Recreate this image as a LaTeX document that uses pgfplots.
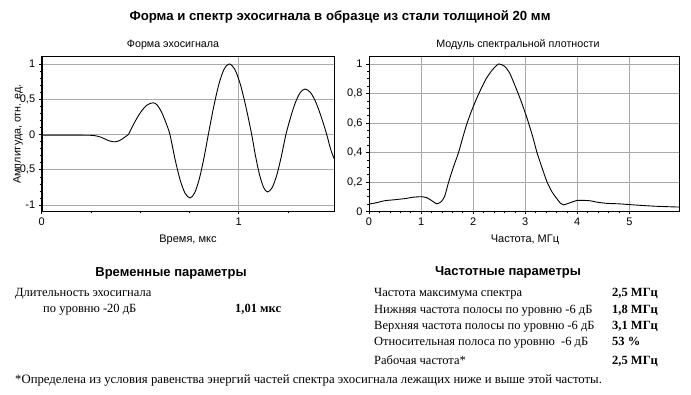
\documentclass[border=0pt]{standalone}
\usepackage{fontspec}
\setmainfont{Liberation Sans}
\newfontfamily\serif{Liberation Serif}
\usepackage{pgfplots}
\pgfplotsset{compat=1.18}
\definecolor{gridgray}{RGB}{170,170,170}
\pgfplotsset{
  mystyle/.style={
    scale only axis,
    anchor=south west,
    axis line style={black, line width=0.7pt},
    tick align=outside,
    major tick length=3pt,
    minor tick length=2pt,
    tick style={black, line width=0.5pt},
    grid=major,
    major grid style={gridgray, line width=0.9pt},
    tick label style={font=\fontsize{11}{13}\selectfont},
    /pgf/number format/assume math mode=true,
    xtick pos=bottom, ytick pos=left,
    clip=true,
  }
}
\begin{document}
\begin{tikzpicture}[x=1pt,y=-1pt]
\path[use as bounding box] (0,0) rectangle (691,395);

% Left: echo signal
\begin{axis}[mystyle,
  at={(41.7pt,-211.5pt)}, width=292.3pt, height=155.5pt,
  xmin=0, xmax=1.484, ymin=-1.092, ymax=1.113,
  xtick={0,1}, xticklabels={0,1},
  minor xtick={0.25,0.5,0.75,1.25},
  ytick={-1,-0.5,0,0.5,1}, yticklabels={{-1},{-0,5},{0},{0,5},{1}},
  minor ytick={-0.9,-0.8,-0.7,-0.6,-0.4,-0.3,-0.2,-0.1,0.1,0.2,0.3,0.4,0.6,0.7,0.8,0.9},
]
\addplot[black, line width=0.9pt, smooth, tension=0.5] coordinates {
(0,-0.01) (0.1,-0.01) (0.2,-0.01) (0.254,-0.012) (0.28,-0.022) (0.30,-0.038)
(0.32,-0.062) (0.34,-0.088) (0.367,-0.104) (0.39,-0.092) (0.41,-0.062) (0.425,-0.032)
(0.44,0) (0.4715,0.172) (0.503,0.318) (0.5345,0.416) (0.566,0.45)
(0.587,0.416) (0.6085,0.318) (0.630,0.172) (0.651,0)
(0.6765,-0.344) (0.702,-0.636) (0.7275,-0.831) (0.753,-0.9)
(0.776,-0.831) (0.7995,-0.636) (0.823,-0.344) (0.846,0)
(0.8725,0.383) (0.899,0.707) (0.9255,0.924) (0.952,1.0)
(0.9805,0.924) (1.009,0.707) (1.0375,0.383) (1.066,0)
(1.086,-0.312) (1.1065,-0.576) (1.127,-0.753) (1.147,-0.815)
(1.170,-0.753) (1.1935,-0.576) (1.2165,-0.312) (1.240,0)
(1.264,0.247) (1.2885,0.456) (1.313,0.596) (1.337,0.645)
(1.3645,0.596) (1.392,0.456) (1.4195,0.247) (1.447,0)
(1.466,-0.2) (1.484,-0.34)
};
\draw[black, line width=1.8pt] (rel axis cs:0,1) -- (rel axis cs:0,0) -- (rel axis cs:1,0);
\end{axis}

% Right: spectrum
\begin{axis}[mystyle,
  at={(369pt,-211.5pt)}, width=310.3pt, height=155.5pt,
  xmin=0, xmax=5.96, ymin=0, ymax=1.054,
  xtick={0,1,2,3,4,5}, xticklabels={0,1,2,3,4,5}, minor x tick num=4,
  ytick={0,0.2,0.4,0.6,0.8,1}, yticklabels={{0},{0,2},{0,4},{0,6},{0,8},{1}},
  minor y tick num=3,
]
\addplot[black, line width=0.9pt, smooth, tension=0.4] coordinates {
(0,0.05) (0.15,0.06) (0.3,0.073) (0.5,0.08) (0.7,0.088) (0.85,0.097) (1.0,0.10)
(1.1,0.095) (1.2,0.075) (1.3,0.052) (1.38,0.065) (1.45,0.10) (1.53,0.20)
(1.62,0.30) (1.72,0.40) (1.80,0.50) (1.885,0.60) (1.99,0.70) (2.11,0.80)
(2.25,0.90) (2.37,0.96) (2.49,1.0) (2.6,0.985) (2.7,0.94) (2.865,0.80)
(2.97,0.70) (3.065,0.60) (3.15,0.50) (3.226,0.40) (3.32,0.30) (3.42,0.20)
(3.52,0.13) (3.61,0.086) (3.68,0.055) (3.74,0.045) (3.85,0.058) (4.0,0.075)
(4.15,0.075) (4.26,0.072) (4.4,0.062) (4.58,0.055) (4.8,0.052) (5.0,0.047)
(5.2,0.042) (5.48,0.036) (5.7,0.033) (5.96,0.03)
};
\draw[black, line width=1.8pt] (rel axis cs:0,0) -- (rel axis cs:1,0);
\end{axis}

% Titles and labels
\node[font=\bfseries\fontsize{13.2}{15}\selectfont] at (340,17) {Форма и спектр эхосигнала в образце из стали толщиной 20 мм};
\node[font=\fontsize{10.7}{12}\selectfont] at (173,45) {Форма эхосигнала};
\node[font=\fontsize{10.7}{12}\selectfont] at (518,45) {Модуль спектральной плотности};
\node[font=\fontsize{10.7}{12}\selectfont, rotate=90] at (18,134) {Амплитуда, отн. ед.};
\node[font=\fontsize{11}{12}\selectfont] at (188,240) {Время, мкс};
\node[font=\fontsize{11}{12}\selectfont] at (525,240) {Частота, МГц};

% Parameters
\node[font=\bfseries\fontsize{13}{15}\selectfont] at (171,273) {Временные параметры};
\node[font=\bfseries\fontsize{13}{15}\selectfont] at (508,272) {Частотные параметры};

\begin{scope}[every node/.style={inner sep=0pt, anchor=mid west, font=\serif\fontsize{12.5}{14}\selectfont}]
\node at (15,294) {Длительность эхосигнала};
\node at (43,310) {по уровню -20 дБ};
\node[font=\serif\bfseries\fontsize{12.5}{14}\selectfont] at (235,310) {1,01 мкс};

\node at (374,294) {Частота максимума спектра};
\node at (374,311) {Нижняя частота полосы по уровню -6 дБ};
\node at (374,327) {Верхняя частота полосы по уровню -6 дБ};
\node at (374,343) {Относительная полоса по уровню \ -6 дБ};
\node at (374,362) {Рабочая частота*};
\node[font=\serif\bfseries\fontsize{12.5}{14}\selectfont] at (612,294) {2,5 МГц};
\node[font=\serif\bfseries\fontsize{12.5}{14}\selectfont] at (612,311) {1,8 МГц};
\node[font=\serif\bfseries\fontsize{12.5}{14}\selectfont] at (612,327) {3,1 МГц};
\node[font=\serif\bfseries\fontsize{12.5}{14}\selectfont] at (612,343) {53 \%};
\node[font=\serif\bfseries\fontsize{12.5}{14}\selectfont] at (612,362) {2,5 МГц};

\node[font=\serif\fontsize{12.75}{14}\selectfont] at (15,381) {*Определена из условия равенства энергий частей спектра эхосигнала лежащих ниже и выше этой частоты.};
\end{scope}
\end{tikzpicture}
\end{document}
